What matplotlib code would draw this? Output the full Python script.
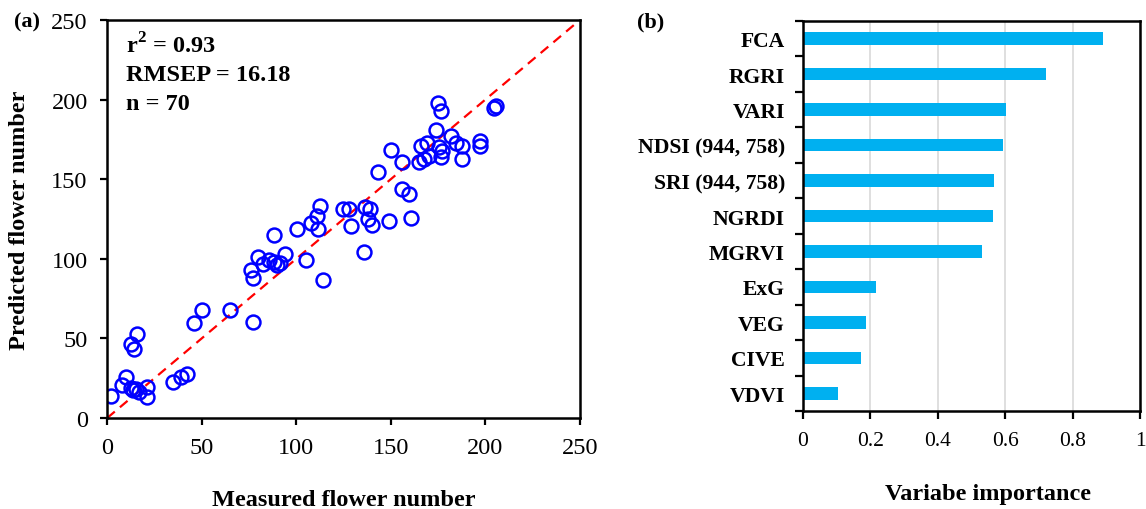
import matplotlib
matplotlib.use("Agg")
from matplotlib import pyplot as plt
import numpy as np

plt.rcParams['font.family'] = ['Liberation Serif', 'DejaVu Serif']
plt.rcParams['mathtext.fontset'] = 'custom'
plt.rcParams['mathtext.rm'] = 'Liberation Serif'
plt.rcParams['mathtext.bf'] = 'Liberation Serif:bold'

# panel (a): measured vs predicted flower number
measured = [2, 8, 10, 12.5, 15, 17, 21, 21, 12.5, 14, 16, 35, 39, 42, 46, 50, 65, 77,
            76, 77, 80, 82.5, 85.5, 88, 88, 90, 91.5, 94, 100.5, 105, 108, 111, 112.5,
            111.5, 114, 124.5, 128, 129, 136.5, 139, 138, 140, 149, 160.5, 136, 143.5,
            150, 155.7, 155.8, 159.7, 165, 167.5, 170.3, 166, 169.4, 175.6, 177.3, 176.5,
            173.8, 181.8, 184.4, 187.9, 187.9, 197, 197, 175, 176.8, 204.5, 205.5, 13.5]
predicted = [14, 21, 25.5, 19, 18, 16.5, 19.5, 13, 46.5, 43.5, 53, 22.5, 26, 27.5, 59.5,
             68, 68, 60.5, 93, 88, 101, 97, 99, 115, 98, 96, 97.5, 103, 119, 99, 122.5,
             127, 133, 118.5, 87, 131.5, 131, 120.5, 132.5, 131, 125, 121, 123.5, 125.5,
             104.5, 154.5, 168.5, 160.6, 143.8, 141, 160.5, 162.7, 164.8, 171, 173, 170,
             168, 163.8, 181, 177, 173, 171, 162.7, 174, 171, 198, 193, 194.5, 196, 17.5]
stats_text = ["r$^\\mathbf{2}$ = 0.93", "RMSEP = 16.18", "n = 70"]

# panel (b): variable importance
variables = ["FCA", "RGRI", "VARI", "NDSI (944, 758)", "SRI (944, 758)", "NGRDI",
             "MGRVI", "ExG", "VEG", "CIVE", "VDVI"]
importance = [0.890, 0.722, 0.601, 0.593, 0.566, 0.563, 0.532, 0.217, 0.187, 0.171, 0.105]

fig = plt.figure(figsize=(11.46, 5.10), dpi=100)

# ---- (a)
ax1 = fig.add_axes([0.0935, 0.1784, 0.4125, 0.7804])
ax1.plot([0, 250], [0, 250], color='red', linestyle=(0, (4.5, 3)), linewidth=1.6, zorder=1)
ax1.plot(measured, predicted, linestyle='none', marker='o', markersize=10,
         markerfacecolor='none', markeredgecolor='blue', markeredgewidth=1.8, zorder=2)
ax1.set_xlim(0, 250)
ax1.set_ylim(0, 250)
ax1.set_xticks(np.arange(0, 251, 50))
ax1.set_yticks(np.arange(0, 251, 50))
ax1.tick_params(direction='out', length=5, width=1.6, labelsize=17.5, pad=9)
for s in ax1.spines.values():
    s.set_linewidth(1.8)
ax1.set_xlabel("Measured flower number", fontsize=17.5, fontweight='bold', labelpad=22)
ax1.set_ylabel("Predicted flower number", fontsize=17.5, fontweight='bold', labelpad=15)
for i, t in enumerate(stats_text):
    ax1.text(0.04, 0.937 - i * 0.074, t, transform=ax1.transAxes, fontsize=17.5,
             fontweight='bold', va='center', ha='left')
fig.text(0.012, 0.955, "(a)", fontsize=16, fontweight='bold', va='center')

# ---- (b)
ax2 = fig.add_axes([0.7007, 0.192, 0.2941, 0.765])
ypos = np.arange(len(variables))
ax2.barh(ypos, importance, height=0.35, color='#00B0F0', zorder=2)
ax2.set_xlim(0, 1)
ax2.set_ylim(len(variables) - 0.5, -0.5)
ax2.set_xticks([0, 0.2, 0.4, 0.6, 0.8, 1])
ax2.set_xticklabels(["0", "0.2", "0.4", "0.6", "0.8", "1"])
ax2.set_yticks(np.arange(-0.5, len(variables), 1.0))
ax2.set_yticklabels([])
ax2.set_yticks(ypos, minor=True)
ax2.set_yticklabels(variables, minor=True, fontsize=15.6, fontweight='bold')
ax2.tick_params(axis='y', which='minor', length=0, pad=13)
ax2.tick_params(axis='y', which='major', direction='out', length=6, width=1.6)
ax2.tick_params(axis='x', direction='out', length=6, width=1.6, labelsize=15.5, pad=8)
ax2.grid(axis='x', color='#d9d9d9', linewidth=1.2, zorder=0)
ax2.set_axisbelow(True)
for s in ax2.spines.values():
    s.set_linewidth(1.8)
ax2.set_xlabel("Variabe importance", fontsize=17.5, fontweight='bold')
ax2.xaxis.set_label_coords(0.55, -0.185)
fig.text(0.556, 0.955, "(b)", fontsize=16, fontweight='bold', va='center')

fig.savefig("out.png", dpi=100)
